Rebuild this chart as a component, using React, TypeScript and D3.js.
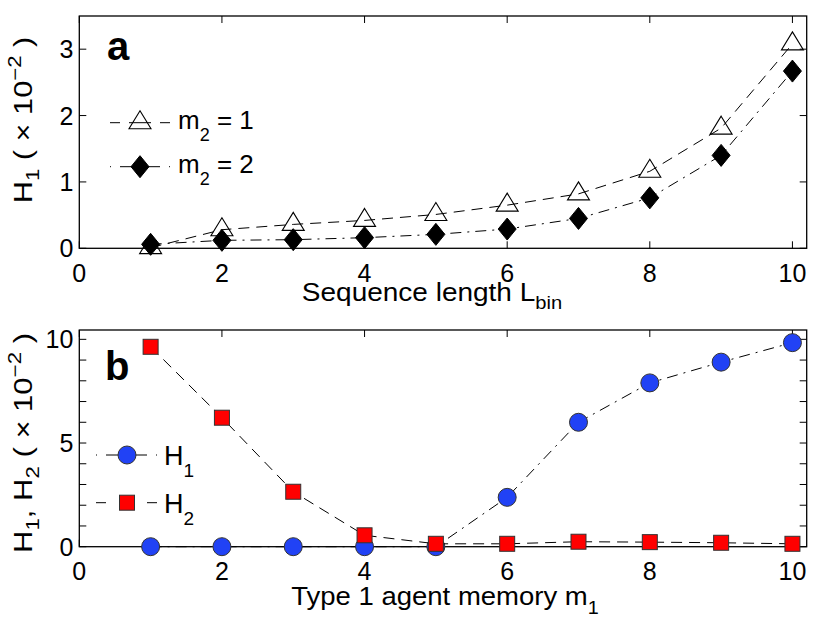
import React from "react";
import * as d3 from "d3";

const seqLen = [1, 2, 3, 4, 5, 6, 7, 8, 9, 10];
const m2One = [0.01, 0.28, 0.36, 0.42, 0.51, 0.65, 0.82, 1.16, 1.81, 3.08];
const m2Two = [0.06, 0.12, 0.13, 0.16, 0.21, 0.29, 0.45, 0.76, 1.4, 2.67];

const memory = [1, 2, 3, 4, 5, 6, 7, 8, 9, 10];
const h1 = [0, 0, 0, 0, 0, 2.38, 6.0, 7.9, 8.9, 9.84];
const h2 = [9.64, 6.22, 2.65, 0.55, 0.14, 0.14, 0.24, 0.22, 0.19, 0.14];

const xTicks = [0, 2, 4, 6, 8, 10];
const yTicksA = [0, 1, 2, 3];
const yTicksB = [0, 1, 2, 3, 4, 5, 6, 7, 8, 9, 10];
const yTickLabelsB = [0, 5, 10];

const FONT = "'Liberation Sans', Arial, Helvetica, sans-serif";
const BLUE = "#2142f5";
const RED = "#ff0000";
const DASH = "11,7";
const DASHDOT = "11,6,2,6";

const X0 = 79.3;
const X1 = 806.7;

const xScale = d3.scaleLinear().domain([0, 10.2]).range([X0, X1]);
const yA = d3.scaleLinear().domain([0, 3.5]).range([248.3, 16]);
const yB = d3.scaleLinear().domain([0, 10.45]).range([546.7, 330]);

const tri = (cx: number, cy: number) =>
  `M${cx},${cy - 12}L${cx + 11},${cy + 6}L${cx - 11},${cy + 6}Z`;
const diamond = (cx: number, cy: number) =>
  `M${cx},${cy - 11}L${cx + 9},${cy}L${cx},${cy + 11}L${cx - 9},${cy}Z`;

function Frame({ y, yTicks, yLabels }: { y: d3.ScaleLinear<number, number>; yTicks: number[]; yLabels: number[] }) {
  const [b, t] = y.range();
  const tl = 7;
  return (
    <g>
      <rect x={X0} y={t} width={X1 - X0} height={b - t} fill="none" stroke="#000" strokeWidth={1.3} />
      {xTicks.map((v) => (
        <g key={"x" + v}>
          <line x1={xScale(v)} x2={xScale(v)} y1={b} y2={b - tl} stroke="#000" strokeWidth={1} />
          <line x1={xScale(v)} x2={xScale(v)} y1={t} y2={t + tl} stroke="#000" strokeWidth={1} />
          <text x={xScale(v)} y={b + 33.5} fontSize={25} textAnchor="middle" fontFamily={FONT}>
            {v}
          </text>
        </g>
      ))}
      {yTicks.map((v) => (
        <g key={"y" + v}>
          <line x1={X0} x2={X0 + tl} y1={y(v)} y2={y(v)} stroke="#000" strokeWidth={1} />
          <line x1={X1} x2={X1 - tl} y1={y(v)} y2={y(v)} stroke="#000" strokeWidth={1} />
        </g>
      ))}
      {yLabels.map((v) => (
        <text key={"yl" + v} x={X0 - 6} y={y(v) + 9} fontSize={25} textAnchor="end" fontFamily={FONT}>
          {v}
        </text>
      ))}
    </g>
  );
}

export default function App() {
  const lineA = d3
    .line<number>()
    .x((_, i) => xScale(seqLen[i]))
    .y((d) => yA(d));
  const lineB = d3
    .line<number>()
    .x((_, i) => xScale(memory[i]))
    .y((d) => yB(d));

  return (
    <svg
      width={822}
      height={628}
      style={{ position: "absolute", left: 0, top: 0, background: "#fff" }}
      fontFamily={FONT}
    >
      <rect x={0} y={0} width={822} height={628} fill="#fff" />
      {/* Panel a */}
      <Frame y={yA} yTicks={yTicksA} yLabels={yTicksA} />
      <path d={lineA(m2One) || ""} fill="none" stroke="#000" strokeWidth={1} strokeDasharray={DASH} />
      {m2One.map((v, i) => (
        <path key={"t" + i} d={tri(xScale(seqLen[i]), yA(v))} fill="none" stroke="#000" strokeWidth={1.1} />
      ))}
      <path d={lineA(m2Two) || ""} fill="none" stroke="#000" strokeWidth={1} strokeDasharray={DASHDOT} />
      {m2Two.map((v, i) => (
        <path key={"d" + i} d={diamond(xScale(seqLen[i]), yA(v))} fill="#000" stroke="#000" strokeWidth={1} />
      ))}
      <text x={107} y={60} fontSize={40} fontWeight="bold" fontFamily={FONT}>
        a
      </text>
      {/* legend a */}
      <g>
        <line x1={110} x2={170} y1={122.7} y2={122.7} stroke="#000" strokeWidth={1} strokeDasharray="10,40,10" />
        <path d={tri(140, 122.7)} fill="#fff" stroke="#000" strokeWidth={1.1} />
        <line x1={129} x2={151} y1={122.7} y2={122.7} stroke="#000" strokeWidth={1} />
        <text x={178} y={128.5} fontSize={26} fontFamily={FONT}>
          m<tspan fontSize={18} dy={12}>2</tspan>
          <tspan dy={-12}> = 1</tspan>
        </text>
        <line x1={110} x2={170} y1={166.7} y2={166.7} stroke="#000" strokeWidth={1} strokeDasharray="1,9,40,9,1" />
        <path d={diamond(140, 166.7)} fill="#000" stroke="#000" strokeWidth={1} />
        <text x={178} y={172.5} fontSize={26} fontFamily={FONT}>
          m<tspan fontSize={18} dy={12}>2</tspan>
          <tspan dy={-12}> = 2</tspan>
        </text>
      </g>
      <text
        transform="translate(432,301) scale(1.12,1)"
        fontSize={25}
        textAnchor="middle"
        fontFamily={FONT}
      >
        Sequence length L<tspan fontSize={18} dy={8}>bin</tspan>
      </text>
      <text transform="translate(32,120) rotate(-90) scale(1.23,1)" fontSize={25} textAnchor="middle" fontFamily={FONT}>
        H<tspan fontSize={18} dy={7}>1</tspan>
        <tspan dy={-7}> ( × 10</tspan>
        <tspan fontSize={18} dy={-11}>−2</tspan>
        <tspan dy={11}> )</tspan>
      </text>

      {/* Panel b */}
      <Frame y={yB} yTicks={yTicksB} yLabels={yTickLabelsB} />
      <path d={lineB(h1) || ""} fill="none" stroke="#000" strokeWidth={1} strokeDasharray={DASHDOT} />
      {h1.map((v, i) => (
        <circle key={"c" + i} cx={xScale(memory[i])} cy={yB(v)} r={9} fill={BLUE} stroke="#333" strokeWidth={1} />
      ))}
      <path d={lineB(h2) || ""} fill="none" stroke="#000" strokeWidth={1} strokeDasharray={DASH} />
      {h2.map((v, i) => (
        <rect
          key={"s" + i}
          x={xScale(memory[i]) - 7.5}
          y={yB(v) - 7.5}
          width={15}
          height={15}
          fill={RED}
          stroke="#333"
          strokeWidth={1}
        />
      ))}
      <text x={105} y={380} fontSize={40} fontWeight="bold" fontFamily={FONT}>
        b
      </text>
      {/* legend b */}
      <g>
        <line x1={96} x2={157} y1={455} y2={455} stroke="#000" strokeWidth={1} strokeDasharray="1,9,41,9,1" />
        <circle cx={127} cy={455} r={9} fill={BLUE} stroke="#333" strokeWidth={1} />
        <text x={164} y={465} fontSize={27} fontFamily={FONT}>
          H<tspan fontSize={19} dy={12}>1</tspan>
        </text>
        <line x1={96} x2={157} y1={502.7} y2={502.7} stroke="#000" strokeWidth={1} strokeDasharray="10,41,10" />
        <rect x={127 - 7.5} y={502.7 - 7.5} width={15} height={15} fill={RED} stroke="#333" strokeWidth={1} />
        <text x={164} y={512.7} fontSize={27} fontFamily={FONT}>
          H<tspan fontSize={19} dy={12}>2</tspan>
        </text>
      </g>
      <text
        transform="translate(445,605) scale(1.1,1)"
        fontSize={25}
        textAnchor="middle"
        fontFamily={FONT}
      >
        Type 1 agent memory m<tspan fontSize={18} dy={9}>1</tspan>
      </text>
      <text transform="translate(32,443) rotate(-90) scale(1.24,1)" fontSize={25} textAnchor="middle" fontFamily={FONT}>
        H<tspan fontSize={18} dy={7}>1</tspan>
        <tspan dy={-7}>, H</tspan>
        <tspan fontSize={18} dy={7}>2</tspan>
        <tspan dy={-7}> ( × 10</tspan>
        <tspan fontSize={18} dy={-11}>−2</tspan>
        <tspan dy={11}> )</tspan>
      </text>
    </svg>
  );
}
